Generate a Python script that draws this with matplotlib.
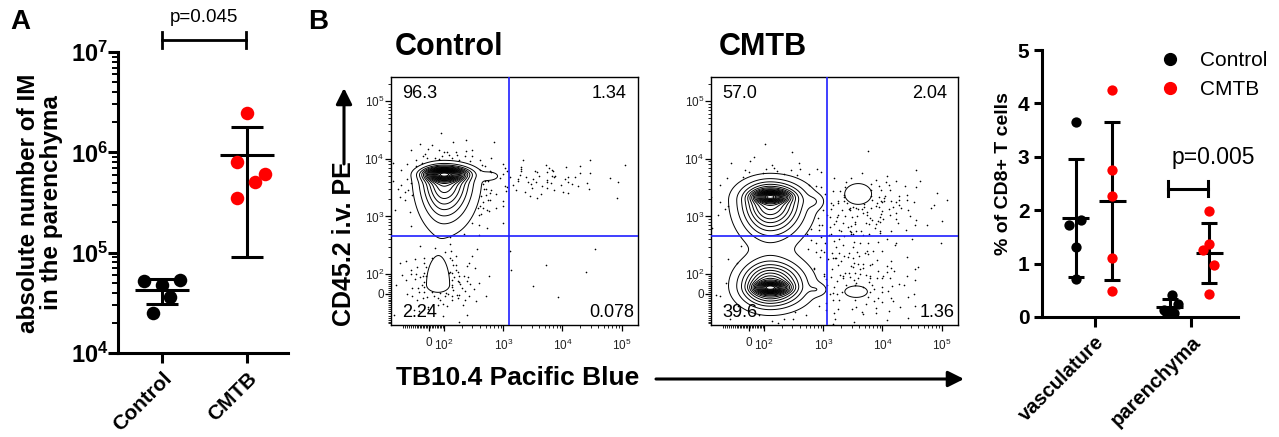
import numpy as np
import matplotlib
matplotlib.use("Agg")
import matplotlib.pyplot as plt
from matplotlib.lines import Line2D
from matplotlib.scale import SymmetricalLogTransform
from matplotlib.ticker import FixedLocator, FixedFormatter, NullFormatter

plt.rcParams["font.family"] = ["Liberation Sans", "DejaVu Sans"]
plt.rcParams["mathtext.fontset"] = "custom"
plt.rcParams["mathtext.rm"] = "Liberation Sans"
plt.rcParams["mathtext.bf"] = "Liberation Sans:bold"
plt.rcParams["mathtext.it"] = "Liberation Sans:italic"
plt.rcParams["mathtext.default"] = "regular"

# ---------------- Panel A: IM counts in the parenchyma ----------------
a_groups = ["Control", "CMTB"]
a_control = [5.2e4, 4.8e4, 5.3e4, 3.6e4, 2.5e4]
a_cmtb = [2.44e6, 8.1e5, 6.1e5, 5.1e5, 3.5e5]
a_pvalue = "p=0.045"
a_yticks = [1e4, 1e5, 1e6, 1e7]
a_yticklabels = [r"$\mathbf{10^{4}}$", r"$\mathbf{10^{5}}$",
                 r"$\mathbf{10^{6}}$", r"$\mathbf{10^{7}}$"]

# ---------------- Panel B: flow plots ----------------
b_samples = ["Control", "CMTB"]
b_quadrants_control = ["96.3", "1.34", "2.24", "0.078"]   # UL, UR, LL, LR
b_quadrants_cmtb = ["57.0", "2.04", "39.6", "1.36"]
b_gate_x = [1250, 1150]
b_gate_y = [450, 450]
b_ticks = [0, 100, 1000, 10000, 100000]
b_ticklabels = ["0", r"$10^{2}$", r"$10^{3}$", r"$10^{4}$", r"$10^{5}$"]

# cell populations: centre (data units), spreads left/right/below/above (decades),
# peak height
ctrl_pop_x = [100, 100, 600, 60]
ctrl_pop_y = [5400, 5000, 5000, 45]
ctrl_pop_sxl = [0.18, 0.24, 0.10, 0.15]
ctrl_pop_sxr = [0.20, 0.28, 0.10, 0.15]
ctrl_pop_syl = [0.07, 0.46, 0.05, 0.10]
ctrl_pop_syh = [0.06, 0.12, 0.05, 0.36]
ctrl_pop_h = [0.65, 0.40, 0.06, 0.07]

cmtb_pop_x = [126, 126, 126, 126, 700, 800, 3900, 3600]
cmtb_pop_y = [2200, 1900, 30, 40, 1800, 20, 2450, 10]
cmtb_pop_sxl = [0.15, 0.30, 0.15, 0.30, 0.10, 0.10, 0.25, 0.21]
cmtb_pop_sxr = [0.17, 0.34, 0.17, 0.34, 0.10, 0.10, 0.25, 0.21]
cmtb_pop_syl = [0.06, 0.38, 0.06, 0.22, 0.08, 0.07, 0.20, 0.11]
cmtb_pop_syh = [0.06, 0.20, 0.06, 0.26, 0.08, 0.07, 0.20, 0.11]
cmtb_pop_h = [0.58, 0.47, 0.58, 0.47, 0.05, 0.05, 0.045, 0.045]

# sparse events: centre (data units), spread (decades), event count
ctrl_ev_x = [110, 4000, 70, 5000, 300]
ctrl_ev_y = [3800, 4500, 60, 100, 1500]
ctrl_ev_sx = [0.40, 0.6, 0.35, 0.6, 0.3]
ctrl_ev_sy = [0.32, 0.16, 0.3, 0.3, 0.3]
ctrl_ev_n = [260, 70, 130, 8, 40]

cmtb_ev_x = [130, 130, 6000, 5000, 2000]
cmtb_ev_y = [2000, 30, 1500, 40, 300]
cmtb_ev_sx = [0.45, 0.45, 0.55, 0.5, 0.4]
cmtb_ev_sy = [0.35, 0.35, 0.3, 0.35, 0.4]
cmtb_ev_n = [150, 130, 130, 100, 70]

# ---------------- Panel C: % of CD8+ T cells ----------------
c_categories = ["vasculature", "parenchyma"]
c_vasc_control = [3.66, 1.82, 1.73, 1.32, 0.71]
c_vasc_cmtb = [4.25, 2.76, 2.27, 1.10, 0.48]
c_par_control = [0.42, 0.25, 0.14, 0.10, 0.07]
c_par_cmtb = [1.98, 1.37, 1.25, 0.98, 0.43]
c_pvalue = "p=0.005"

# horizontal scatter of the dots within each column
a_jitter_control = [-0.22, 0.0, 0.21, 0.09, -0.11]
a_jitter_cmtb = [0.0, -0.12, 0.21, 0.09, -0.12]
c_jitter_vasc_control = [0.0, 0.06, -0.08, 0.0, 0.0]
c_jitter_vasc_cmtb = [0.0, 0.0, 0.0, 0.0, 0.0]
c_jitter_par_control = [0.02, 0.10, -0.07, -0.02, 0.05]
c_jitter_par_cmtb = [0.0, 0.0, -0.07, 0.06, 0.0]

RED = "#ff0000"
W, H = 1279, 437
fig = plt.figure(figsize=(W / 100, H / 100), dpi=100)


def px_axes(left, top, right, bottom):
    return fig.add_axes([left / W, 1 - bottom / H, (right - left) / W, (bottom - top) / H])


def mean_sd(ax, x, vals, lw, cap, half):
    m = np.mean(vals)
    sd = np.std(vals, ddof=1)
    ax.errorbar([x], [m], yerr=[sd], fmt="none", ecolor="k", elinewidth=lw,
                capsize=cap, capthick=lw, zorder=2)
    ax.plot([x - half, x + half], [m, m], color="k", lw=lw, zorder=2,
            solid_capstyle="butt")


# ======================= Panel A =======================
axA = px_axes(118, 52, 288, 353)
axA.set_yscale("log")
axA.set_ylim(1e4, 1e7)
axA.set_xlim(-0.52, 1.48)
for i, (vals, jit, col) in enumerate([(a_control, a_jitter_control, "k"),
                                      (a_cmtb, a_jitter_cmtb, RED)]):
    axA.scatter(i + np.asarray(jit), vals, s=95, color=col, linewidths=0, zorder=3)
    mean_sd(axA, i, vals, 2.2, 11.5, 0.32)
for s in ["top", "right"]:
    axA.spines[s].set_visible(False)
for s in ["left", "bottom"]:
    axA.spines[s].set_linewidth(2.2)
axA.yaxis.set_major_locator(FixedLocator(a_yticks))
axA.yaxis.set_major_formatter(FixedFormatter(a_yticklabels))
axA.yaxis.set_minor_formatter(NullFormatter())
axA.tick_params(axis="y", which="major", length=7, width=2.2, labelsize=17, pad=0)
axA.tick_params(axis="y", which="minor", length=4, width=1.4)
axA.set_xticks([0, 1])
axA.set_xticklabels(a_groups, rotation=45, ha="right", rotation_mode="anchor",
                    fontsize=15, fontweight="bold")
axA.tick_params(axis="x", length=7, width=2.2, pad=4)
# significance bracket
yb = 10 ** 7.12
axA.plot([0, 0.98], [yb, yb], color="k", lw=2, clip_on=False)
for xe in [0, 0.98]:
    axA.plot([xe, xe], [10 ** 7.04, 10 ** 7.2], color="k", lw=2, clip_on=False)
axA.text(0.49, 10 ** 7.34, a_pvalue, ha="center", va="center", fontsize=13.5)
fig.text(40 / W, 1 - 203 / H, "absolute number of IM\nin the parenchyma",
         rotation=90, ha="center", va="center", fontsize=17.5, fontweight="bold",
         multialignment="center", linespacing=1.05)
fig.text(10 / W, 1 - 22 / H, "A", fontsize=20, fontweight="bold", va="center")

# ======================= Panel B =======================
fig.text(308 / W, 1 - 22 / H, "B", fontsize=20, fontweight="bold", va="center")


def halton(n, base, start):
    idx = np.arange(start, start + n)
    out = np.zeros(n)
    f = 1.0
    while np.any(idx > 0):
        f /= base
        out += f * (idx % base)
        idx //= base
    return out


def flow_plot(ax, lin_x, lin_y, gate_x, gate_y, pops, events, quads, xlim, ylim):
    tx = SymmetricalLogTransform(10, 100, lin_x * 0.9)
    ty = SymmetricalLogTransform(10, 100, lin_y * 0.9)
    ax.set_xscale("symlog", linthresh=100, linscale=lin_x * 0.9)
    ax.set_yscale("symlog", linthresh=100, linscale=lin_y * 0.9)
    ax.set_xlim(*xlim)
    ax.set_ylim(*ylim)

    def to_dec(t, v):
        return t.transform(np.asarray(v, float).reshape(-1, 1)).ravel() / 100.0

    def from_dec(t, u):
        return t.inverted().transform(np.asarray(u, float).reshape(-1, 1) * 100.0).ravel()

    ux = np.linspace(*to_dec(tx, xlim), 420)
    uy = np.linspace(*to_dec(ty, ylim), 420)
    UX, UY = np.meshgrid(ux, uy)
    px, py, sxl, sxr, syl, syh, ph = pops
    cx, cy = to_dec(tx, px), to_dec(ty, py)

    def density(gx, gy):
        z = np.zeros_like(gx)
        for i in range(len(px)):
            dx = gx - cx[i]
            dy = gy - cy[i]
            sx = np.where(dx < 0, sxl[i], sxr[i])
            sy = np.where(dy < 0, syl[i], syh[i])
            z += ph[i] * np.exp(-0.5 * ((dx / sx) ** 2 + (dy / sy) ** 2))
        return z

    Z = density(UX, UY)
    levels = np.arange(0.03, 1.0, 0.05)
    X = from_dec(tx, ux)
    Y = from_dec(ty, uy)
    ax.contour(X, Y, Z, levels=levels, colors="k", linewidths=0.7, zorder=2)

    # scattered single events outside the outermost contour
    ex, ey, esx, esy, en = events
    ecx, ecy = to_dec(tx, ex), to_dec(ty, ey)
    pts_x, pts_y = [], []
    start = 1
    for i in range(len(ex)):
        u1 = halton(en[i], 2, start)
        u2 = halton(en[i], 3, start)
        start += en[i] + 17
        u1 = np.clip(u1, 1e-6, 1)
        r = np.sqrt(-2 * np.log(u1))
        gx = ecx[i] + esx[i] * r * np.cos(2 * np.pi * u2)
        gy = ecy[i] + esy[i] * r * np.sin(2 * np.pi * u2)
        keep = density(gx, gy) < levels[0]
        pts_x.append(gx[keep])
        pts_y.append(gy[keep])
    gx = np.concatenate(pts_x)
    gy = np.concatenate(pts_y)
    ax.scatter(from_dec(tx, gx), from_dec(ty, gy), s=1.4, color="k",
               linewidths=0, zorder=2)

    ax.axvline(gate_x, color="#1f1fff", lw=1.2, zorder=3)
    ax.axhline(gate_y, color="#1f1fff", lw=1.2, zorder=3)

    for s in ax.spines.values():
        s.set_linewidth(1.0)
    for axis in (ax.xaxis, ax.yaxis):
        axis.set_major_locator(FixedLocator(b_ticks))
        axis.set_major_formatter(FixedFormatter(b_ticklabels))
        minor = [v for v in range(-150, 100, 10) if v != 0]
        for d in (100, 1000, 10000, 100000):
            minor += [k * d for k in range(2, 10)]
        axis.set_minor_locator(FixedLocator(minor))
        axis.set_minor_formatter(NullFormatter())
    ax.tick_params(which="major", length=4, width=0.9, labelsize=8.5,
                   colors="k", labelcolor="#222222")
    ax.tick_params(which="minor", length=2, width=0.6)
    ax.tick_params(axis="x", pad=5)
    ax.tick_params(axis="y", pad=1)

    ul, ur, ll, lr = quads
    kw = dict(fontsize=13, transform=ax.transAxes, va="center", zorder=4)
    ax.text(0.045, 0.935, ul, ha="left", **kw)
    ax.text(0.955, 0.935, ur, ha="right", **kw)
    ax.text(0.045, 0.05, ll, ha="left", **kw)
    ax.text(0.985, 0.05, lr, ha="right", **kw)


axB1 = px_axes(391, 77, 638, 325)
flow_plot(axB1, 0.26, 0.34, b_gate_x[0], b_gate_y[0],
          (ctrl_pop_x, ctrl_pop_y, ctrl_pop_sxl, ctrl_pop_sxr, ctrl_pop_syl,
           ctrl_pop_syh, ctrl_pop_h),
          (ctrl_ev_x, ctrl_ev_y, ctrl_ev_sx, ctrl_ev_sy, ctrl_ev_n),
          b_quadrants_control, (-240, 190000), (-160, 262144))
axB2 = px_axes(711, 77, 958, 325)
flow_plot(axB2, 0.26, 0.34, b_gate_x[1], b_gate_y[1],
          (cmtb_pop_x, cmtb_pop_y, cmtb_pop_sxl, cmtb_pop_sxr, cmtb_pop_syl,
           cmtb_pop_syh, cmtb_pop_h),
          (cmtb_ev_x, cmtb_ev_y, cmtb_ev_sx, cmtb_ev_sy, cmtb_ev_n),
          b_quadrants_cmtb, (-240, 190000), (-160, 262144))

fig.text(395 / W, 1 - 47 / H, b_samples[0], fontsize=22, fontweight="bold",
         va="center", ha="left")
fig.text(719 / W, 1 - 47 / H, b_samples[1], fontsize=22, fontweight="bold",
         va="center", ha="left")
fig.text(344 / W, 1 - 244 / H, "CD45.2 i.v. PE", rotation=90, fontsize=18,
         fontweight="bold", ha="center", va="center")
fig.text(396 / W, 1 - 378 / H, "TB10.4 Pacific Blue", fontsize=19,
         fontweight="bold", ha="left", va="center")
arrow = dict(arrowstyle="-|>", lw=2.2, color="k", mutation_scale=24,
             shrinkA=0, shrinkB=0)
axB1.annotate("", xy=(344, H - 88), xytext=(344, H - 164),
              xycoords="figure pixels", textcoords="figure pixels",
              arrowprops=arrow, annotation_clip=False)
axB1.annotate("", xy=(964, H - 379), xytext=(656, H - 379),
              xycoords="figure pixels", textcoords="figure pixels",
              arrowprops=arrow, annotation_clip=False)

# ======================= Panel C =======================
axC = px_axes(1042, 50, 1238, 317)
axC.set_xlim(-0.55, 1.49)
axC.set_ylim(0, 5)
c_series = [
    (0 - 0.2, c_vasc_control, c_jitter_vasc_control, "k"),
    (0 + 0.18, c_vasc_cmtb, c_jitter_vasc_cmtb, RED),
    (1 - 0.22, c_par_control, c_jitter_par_control, "k"),
    (1 + 0.19, c_par_cmtb, c_jitter_par_cmtb, RED),
]
for x0, vals, jit, col in c_series:
    axC.scatter(x0 + np.asarray(jit) * 0.9, vals, s=55, color=col,
                linewidths=0, zorder=3, clip_on=False)
    mean_sd(axC, x0, vals, 2.2, 6, 0.14)
for s in ["top", "right"]:
    axC.spines[s].set_visible(False)
for s in ["left", "bottom"]:
    axC.spines[s].set_linewidth(2.2)
axC.set_yticks([0, 1, 2, 3, 4, 5])
axC.set_yticklabels(["0", "1", "2", "3", "4", "5"], fontweight="bold", fontsize=15)
axC.tick_params(axis="y", length=6, width=2.2, pad=3)
axC.set_xticks([0, 1])
axC.set_xticklabels(c_categories, rotation=45, ha="right", rotation_mode="anchor",
                    fontsize=14.5, fontweight="bold")
axC.tick_params(axis="x", length=7, width=2.2, pad=4)
fig.text(1004 / W, 1 - 174 / H, "% of CD8+ T cells", rotation=90, fontsize=14,
         fontweight="bold", ha="center", va="center")
# significance bracket
axC.plot([0.76, 1.18], [2.4, 2.4], color="k", lw=2.2)
for xe in [0.76, 1.18]:
    axC.plot([xe, xe], [2.26, 2.54], color="k", lw=2.2)
axC.text(1.23, 2.98, c_pvalue, ha="center", va="center", fontsize=16.5)

handles = [Line2D([], [], marker="o", ls="none", color="k", ms=8.5),
           Line2D([], [], marker="o", ls="none", color=RED, ms=8.5)]
axC.legend(handles, b_samples, loc="upper left", frameon=False, fontsize=15,
           bbox_to_anchor=(1160 / W, 1 - 51 / H), bbox_transform=fig.transFigure,
           borderpad=0, borderaxespad=0, handlelength=1.0, handletextpad=0.9,
           labelspacing=0.5)

fig.savefig("out.png", dpi=100)
